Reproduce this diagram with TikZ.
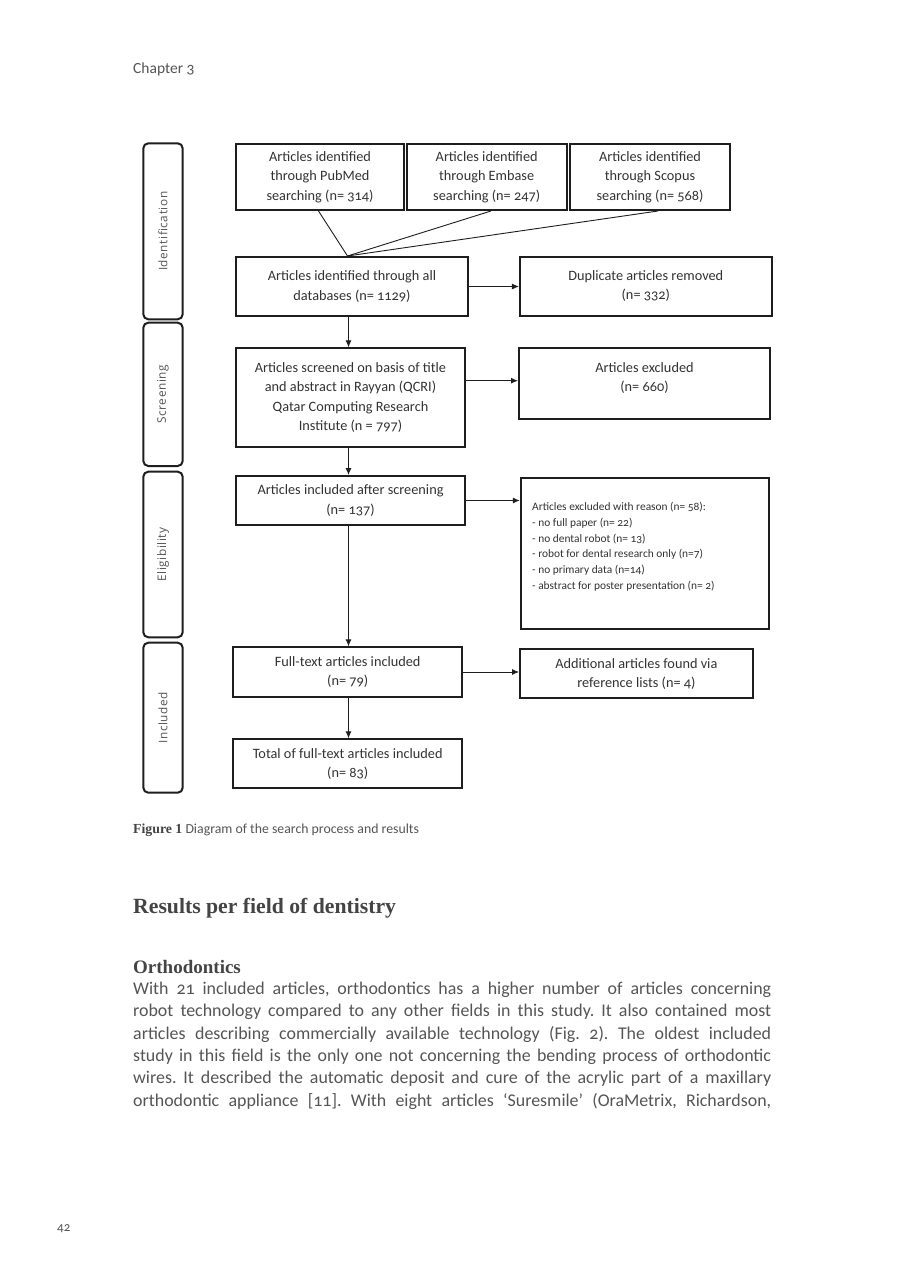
\documentclass[tikz,border=0pt]{standalone}
\usepackage{fontspec}
\setmainfont{Carlito}[Numbers=OldStyle]
\newfontfamily\capfont{Liberation Serif}
\newfontfamily\phasefont[LetterSpace=5]{Open Sans}
\usetikzlibrary{arrows.meta,calc}
\definecolor{ink}{HTML}{1E1E1E}
\definecolor{boxtext}{HTML}{333333}
\definecolor{bodytext}{HTML}{555555}
\definecolor{phasetext}{HTML}{555555}
\definecolor{headtext}{HTML}{444444}
\frenchspacing
\begin{document}
\begin{tikzpicture}[x=1pt,y=-1pt,
  box/.style={draw=ink,line width=2pt,inner sep=0pt,align=center,text=boxtext,
    font=\fontsize{14.3}{19.3}\selectfont},
  boxtxt/.style={inner sep=0pt,align=center,text=boxtext,font=\fontsize{14.3}{19.3}\selectfont},
  phase/.style={draw=ink,line width=2pt,rounded corners=5pt,inner sep=0pt,rotate=90,
    text=phasetext,font=\phasefont\fontsize{11.8}{14}\selectfont},
  conn/.style={draw=ink,line width=0.9pt},
  arr/.style={conn,-{Latex[length=7pt,width=6pt]}},
  pagetext/.style={inner sep=0pt,anchor=west,text=bodytext},
]
\useasboundingbox (0,0) rectangle (905,1280);
\fill[white] (0,0) rectangle (905,1280);

% header
\node[pagetext,font=\fontsize{15.5}{17}\selectfont] (chap) at (133,69) {Chapter 3};

% phase boxes
\node[phase,minimum width=176,minimum height=39.4] (pid) at (163,231.3) {Identification};
\node[phase,minimum width=143.3,minimum height=39.4] (psc) at (163,394.35) {Screening};
\node[phase,minimum width=165.6,minimum height=39.4] (pel) at (163,554.5) {Eligibility};
\node[phase,minimum width=150,minimum height=39.4] (pin) at (163,717.7) {Included};

% boxes
\node[box,minimum width=168,minimum height=66] (pub) at (320,177)
  {Articles identified\\through PubMed\\searching (n= 314)};
\node[box,minimum width=160,minimum height=66] (emb) at (486.7,177)
  {Articles identified\\through Embase\\searching (n= 247)};
\node[box,minimum width=160,minimum height=66] (sco) at (650,177)
  {Articles identified\\through Scopus\\searching (n= 568)};
\node[box,minimum width=232,minimum height=59] (all) at (352,286.5)
  {Articles identified through all\\databases (n= 1129)};
\node[box,minimum width=251.7,minimum height=58.5] (dup) at (645.8,286.3)
  {Duplicate articles removed\\(n= 332)};
\node[box,minimum width=229,minimum height=98.4] (scr) at (350.5,397.5)
  {Articles screened on basis of title\\and abstract in Rayyan (QCRI)\\Qatar Computing Research\\Institute (n = 797)};
\node[box,minimum width=251,minimum height=70.7] (exc) at (644.5,383.7) {};
\node[boxtxt] (exct) at ([yshift=5.5pt]exc.center) {Articles excluded\\(n= 660)};
\node[box,minimum width=229,minimum height=49] (inc) at (350.5,500.5)
  {Articles included after screening\\(n= 137)};
\node[box,minimum width=248.7,minimum height=151.3] (excr) at (645.1,553.4) {};
\node[inner sep=0pt,anchor=north west,align=left,text=boxtext,
  font=\fontsize{11.4}{15.8}\selectfont] (excrt) at (532,502)
  {Articles excluded with reason (n= 58):\\- no full paper (n= 22)\\- no dental robot (n= 13)\\- robot for dental research only (n=7)\\- no primary data (n=14)\\- abstract for poster presentation (n= 2)};
\node[box,minimum width=229.5,minimum height=49.4] (ft) at (347.7,672)
  {Full-text articles included\\(n= 79)};
\node[box,minimum width=232.7,minimum height=48.7] (add) at (636.4,673.7)
  {Additional articles found via\\reference lists (n= 4)};
\node[box,minimum width=229.5,minimum height=49] (tot) at (347.7,763.8)
  {Total of full-text articles included\\(n= 83)};

% connectors
\coordinate (conv) at ([xshift=-4.5pt]all.north);
\draw[conn] ([xshift=-1.5pt]pub.south) -- (conv);
\draw[conn] ([xshift=4.3pt]emb.south) -- (conv);
\draw[conn] ([xshift=8pt]sco.south) -- (conv);
\coordinate (spine) at (348.5,0);
\draw[arr] (all.south -| spine) -- (scr.north -| spine);
\draw[arr] (scr.south -| spine) -- (inc.north -| spine);
\draw[arr] (inc.south -| spine) -- (ft.north -| spine);
\draw[arr] (ft.south -| spine) -- (tot.north -| spine);
\draw[arr] (all.east) -- (all.east -| dup.west);
\coordinate (excin) at ([yshift=3pt]exc.west);
\draw[arr] (scr.east |- excin) -- (excin);
\draw[arr] (inc.east) -- (inc.east -| excr.west);
\draw[arr] (ft.east) -- (ft.east -| add.west);

% caption and page text
\node[pagetext,font=\fontsize{13.8}{15}\selectfont] (cap) at (133,830)
  {{\capfont\bfseries\color{headtext}Figure 1} Diagram of the search process and results};
\node[pagetext,font=\capfont\bfseries\fontsize{21.7}{24}\selectfont,text=headtext] (head) at (133,908)
  {Results per field of dentistry};
\node[pagetext,font=\capfont\bfseries\fontsize{19}{21}\selectfont,text=headtext] (ortho) at (133,967)
  {Orthodontics};
\node[inner sep=0pt,anchor=north west,text=bodytext,text width=638pt,align=justify,
  font=\fontsize{17.9}{22.3}\selectfont] (body) at (133,982)
  {With 21 included articles, orthodontics has a higher number of articles concerning\linebreak
  robot technology compared to any other fields in this study. It also contained most\linebreak
  articles describing commercially available technology (Fig. 2). The oldest included\linebreak
  study in this field is the only one not concerning the bending process of orthodontic\linebreak
  wires. It described the automatic deposit and cure of the acrylic part of a maxillary\linebreak
  \makebox[638pt][s]{orthodontic appliance [11]. With eight articles ‘Suresmile’ (OraMetrix, Richardson,}};
\node[pagetext,font=\fontsize{13}{15}\selectfont] (pnum) at (57,1229) {42};
\end{tikzpicture}
\end{document}
